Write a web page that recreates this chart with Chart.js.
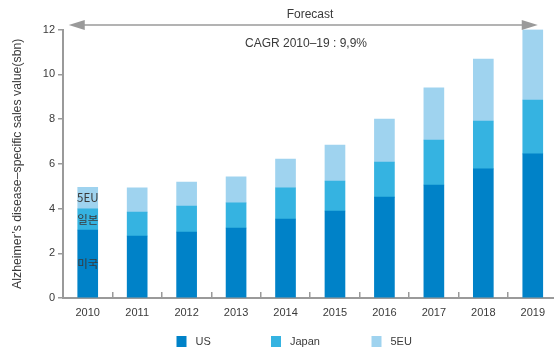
<!DOCTYPE html>
<html>
<head>
<meta charset="utf-8">
<script src="https://cdn.jsdelivr.net/npm/chart.js@4.4.0/dist/chart.umd.min.js"></script>
<style>
  html, body { margin: 0; padding: 0; background: #fff; overflow: hidden; }
  #wrap { width: 554px; height: 350px; overflow: hidden; position: relative; }
  canvas { display: block; }
</style>
</head>
<body>
<div id="wrap"><canvas id="c" width="559" height="350"></canvas></div>
<script>
const years = ['2010','2011','2012','2013','2014','2015','2016','2017','2018','2019'];
const usValues    = [3.04, 2.77, 2.95, 3.13, 3.53, 3.89, 4.51, 5.05, 5.77, 6.44];
const japanValues = [0.94, 1.07, 1.16, 1.12, 1.39, 1.34, 1.57, 2.01, 2.14, 2.41];
const euValues    = [0.97, 1.08, 1.07, 1.16, 1.29, 1.61, 1.92, 2.33, 2.77, 3.15];
const seriesNames = ['US', 'Japan', '5EU'];
const barLabelsKo = ['미국', '일본', '5EU'];
const yTicks = [0, 2, 4, 6, 8, 10, 12];
const forecastLabel = 'Forecast';
const cagrLabel = 'CAGR 2010\u201319 : 9,9%';
const yTitle = 'Alzheimer\u2019s disease\u2013specific sales value(sbn)';

const colors = ['#0082c8', '#35b3e1', '#9fd3ef'];
const FONT = '"Liberation Sans", Arial, sans-serif';
const TXT = '#3a3a3a';
const AXIS = '#9a9a9a';

const annot = {
  id: 'annot',
  afterDraw(chart) {
    const ctx = chart.ctx;
    const x = chart.scales.x, y = chart.scales.y;
    ctx.save();
    // Forecast arrow
    const ay = 25;
    const x0 = x.getPixelForValue(0) - 19;
    const x1 = x.getPixelForValue(years.length - 1) + 5;
    ctx.strokeStyle = AXIS; ctx.fillStyle = AXIS; ctx.lineWidth = 1.5;
    ctx.beginPath(); ctx.moveTo(x0 + 10, ay); ctx.lineTo(x1 - 10, ay); ctx.stroke();
    ctx.beginPath(); ctx.moveTo(x0, ay); ctx.lineTo(x0 + 16, ay - 5); ctx.lineTo(x0 + 16, ay + 5); ctx.closePath(); ctx.fill();
    ctx.beginPath(); ctx.moveTo(x1, ay); ctx.lineTo(x1 - 16, ay - 5); ctx.lineTo(x1 - 16, ay + 5); ctx.closePath(); ctx.fill();
    // Texts
    ctx.fillStyle = TXT;
    ctx.font = '12px ' + FONT;
    ctx.textAlign = 'center'; ctx.textBaseline = 'middle';
    ctx.fillText(forecastLabel, 310, 15);
    ctx.fillText(cagrLabel, 306, 44);
    // Korean labels in first bar, at segment midpoints
    const bx = x.getPixelForValue(0);
    const segs = [usValues[0], japanValues[0], euValues[0]];
    let base = 0;
    ctx.font = '11.5px "Noto Sans CJK KR", ' + FONT;
    for (let i = 0; i < 3; i++) {
      const mid = base + segs[i] / 2;
      ctx.fillText(barLabelsKo[i], bx, y.getPixelForValue(mid));
      base += segs[i];
    }
    // Legend
    const lx = [176.5, 271, 371.5];
    ctx.font = '11px ' + FONT;
    ctx.textAlign = 'left';
    for (let i = 0; i < 3; i++) {
      ctx.fillStyle = colors[i];
      ctx.fillRect(lx[i], 336, 10, 11);
      ctx.fillStyle = TXT;
      ctx.fillText(seriesNames[i], lx[i] + 19, 342);
    }
    ctx.restore();
  }
};

new Chart(document.getElementById('c'), {
  type: 'bar',
  data: {
    labels: years,
    datasets: [
      { label: seriesNames[0], data: usValues, backgroundColor: colors[0] },
      { label: seriesNames[1], data: japanValues, backgroundColor: colors[1] },
      { label: seriesNames[2], data: euValues, backgroundColor: colors[2] }
    ]
  },
  options: {
    responsive: false,
    animation: false,
    layout: { padding: { top: 29.5, right: 0, left: 0, bottom: 0 } },
    datasets: { bar: { barThickness: 20, borderWidth: 0 } },
    plugins: { legend: { display: false }, tooltip: { enabled: false } },
    scales: {
      x: {
        stacked: true,
        grid: { display: true, drawOnChartArea: false, drawTicks: true, tickLength: -6, color: AXIS, lineWidth: 1.5 },
        border: { display: true, color: AXIS, width: 2 },
        ticks: { color: TXT, font: { family: FONT, size: 11 }, padding: 14, maxRotation: 0 },
        afterFit(s) { s.height = 52; }
      },
      y: {
        stacked: true,
        min: 0, max: 12,
        afterBuildTicks(s) { s.ticks = yTicks.map(v => ({ value: v })); },
        grid: { display: true, drawOnChartArea: false, drawTicks: true, tickLength: 5, color: AXIS, lineWidth: 1.5 },
        border: { display: true, color: AXIS, width: 2 },
        ticks: { color: TXT, font: { family: FONT, size: 11 }, padding: 3 },
        title: { display: true, text: yTitle, color: TXT, font: { family: FONT, size: 12.3 }, padding: { top: 10, bottom: 0 } },
        afterFit(s) { s.width = 63; }
      }
    }
  },
  plugins: [annot]
});
</script>
</body>
</html>
